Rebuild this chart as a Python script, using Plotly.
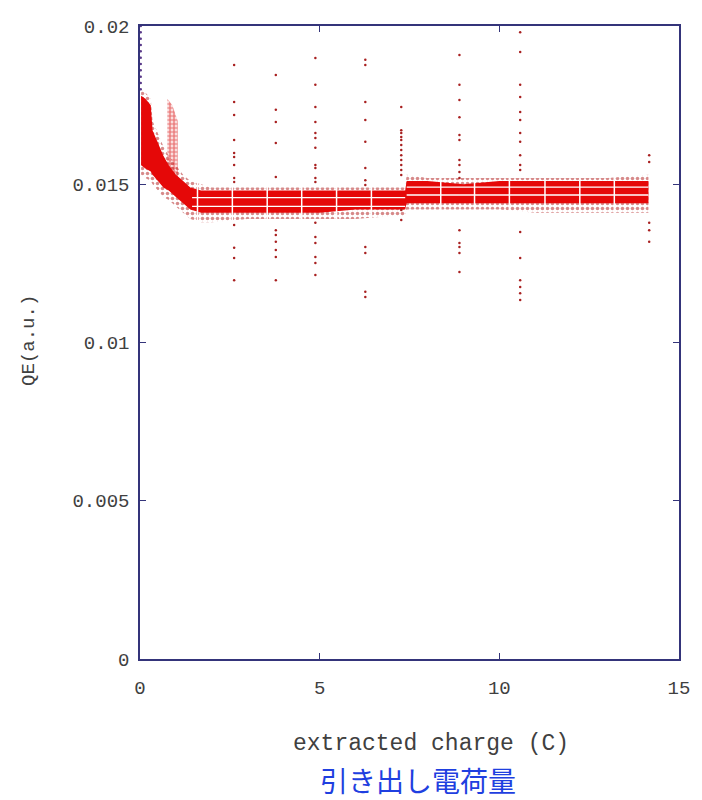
import plotly.graph_objects as go

# ---------------- data ----------------
# dense core of the QE band
band_x  = [0.03, 0.15, 0.30, 0.35, 0.50, 0.65, 0.80, 1.00, 1.20, 1.40, 1.70, 2.00, 3.00,
           4.00, 5.00, 6.00, 7.00, 7.38, 7.42, 8.00, 9.00, 10.00, 11.00, 12.00, 13.00, 14.15]
band_hi = [0.0178, 0.0177, 0.0175, 0.0167, 0.0163, 0.0159, 0.0156, 0.0153, 0.0151, 0.0149,
           0.0148, 0.0148, 0.0148, 0.0148, 0.0148, 0.0148, 0.0148, 0.0148, 0.0151, 0.0151,
           0.0150, 0.0151, 0.0151, 0.0151, 0.0151, 0.0151]
band_lo = [0.0156, 0.0155, 0.0154, 0.0153, 0.0151, 0.0149, 0.0148, 0.0146, 0.0144, 0.0142,
           0.0141, 0.0141, 0.0141, 0.0141, 0.0141, 0.0142, 0.0142, 0.0142, 0.0144, 0.0144,
           0.0144, 0.0144, 0.0144, 0.0144, 0.0144, 0.0144]
# sparse scatter fringe around the band
fringe_hi = [0.0180, 0.0179, 0.0177, 0.0170, 0.0166, 0.0162, 0.0159, 0.0156, 0.0153, 0.0151,
             0.0150, 0.0149, 0.0149, 0.0149, 0.0149, 0.0149, 0.0149, 0.0149, 0.0153, 0.0152,
             0.0152, 0.0152, 0.0152, 0.0152, 0.0152, 0.0153]
fringe_lo = [0.0153, 0.0152, 0.0151, 0.0150, 0.0148, 0.0146, 0.0145, 0.0143, 0.0141, 0.0139,
             0.0138, 0.0138, 0.0139, 0.0139, 0.0139, 0.0139, 0.0140, 0.0140, 0.0142, 0.0142,
             0.0142, 0.0142, 0.0141, 0.0141, 0.0141, 0.0141]
# second early streak
streak_x  = [0.76, 0.90, 1.05]
streak_hi = [0.0177, 0.0175, 0.0170]
streak_lo = [0.0150, 0.0149, 0.0148]

# outlier columns (x position, y values)
col_x = [0.02, 2.62, 3.78, 4.88, 6.27, 7.27, 8.89, 10.58, 14.17]
col_0  = [0.0200, 0.0198, 0.0196, 0.0194, 0.0192, 0.0190, 0.0188, 0.0186, 0.0184, 0.0182, 0.0180]
col_1  = [0.01877, 0.01760, 0.01719, 0.01640, 0.01599, 0.01586, 0.01561, 0.01520, 0.01507,
          0.01371, 0.01299, 0.01267, 0.01197]
col_2  = [0.01845, 0.01735, 0.01697, 0.01630, 0.01523, 0.01355, 0.01340, 0.01318, 0.01292,
          0.01270, 0.01197]
col_3  = [0.01899, 0.01814, 0.01744, 0.01697, 0.01662, 0.01646, 0.01615, 0.01561, 0.01551,
          0.01520, 0.01507, 0.01378, 0.01333, 0.01314, 0.01270, 0.01251, 0.01213]
col_4  = [0.01893, 0.01877, 0.01760, 0.01703, 0.01634, 0.01551, 0.01513, 0.01498,
          0.01302, 0.01283, 0.01160, 0.01144]
col_5  = [0.01744, 0.01671, 0.01662, 0.01649, 0.01640, 0.01624, 0.01608, 0.01592, 0.01577,
          0.01561, 0.01545, 0.01529, 0.01419, 0.01387]
col_6  = [0.01908, 0.01814, 0.01766, 0.01712, 0.01656, 0.01640, 0.01577, 0.01561, 0.01539,
          0.01520, 0.01355, 0.01314, 0.01302, 0.01283, 0.01223]
col_7  = [0.01980, 0.01918, 0.01814, 0.01776, 0.01728, 0.01703, 0.01662, 0.01634, 0.01592,
          0.01561, 0.01545, 0.01349, 0.01267, 0.01197, 0.01175, 0.01156, 0.01134]
col_8  = [0.01592, 0.01570, 0.01378, 0.01355, 0.01318]
columns = [col_0, col_1, col_2, col_3, col_4, col_5, col_6, col_7, col_8]

# white gaps inside the band
gap_x = [1.60, 2.57, 3.54, 4.50, 5.47, 6.44, 8.37, 9.31, 10.28, 11.27, 12.24, 13.20]
left_lines_y = [0.01458, 0.01430]
right_lines_y = [0.01491, 0.01466]

x_ticks = [0, 5, 10, 15]
y_ticks = [0, 0.005, 0.01, 0.015, 0.02]
y_ticktext = ["0", "0.005", "0.01", "0.015", "0.02"]

# ---------------- figure ----------------
RED = "#e50808"
DOT = "#a82020"
AX = "#34347a"
TXT = "#404040"

fig = go.Figure()

# sparse fringe as dotted pattern
fig.add_trace(go.Scatter(
    x=band_x + band_x[::-1], y=fringe_hi + fringe_lo[::-1],
    fill="toself", mode="none", fillcolor="rgba(0,0,0,0)",
    fillpattern=dict(shape=".", size=5, solidity=0.4, fgcolor="#b01515",
                     bgcolor="rgba(255,255,255,0)"),
    hoverinfo="skip", showlegend=False))
# early second streak
fig.add_trace(go.Scatter(
    x=streak_x + streak_x[::-1], y=streak_hi + streak_lo[::-1],
    fill="toself", mode="none", fillcolor="rgba(0,0,0,0)",
    fillpattern=dict(shape=".", size=4, solidity=0.7, fgcolor="#d80c0c",
                     bgcolor="rgba(255,255,255,0)"),
    hoverinfo="skip", showlegend=False))
# dense band
fig.add_trace(go.Scatter(
    x=band_x + band_x[::-1], y=band_hi + band_lo[::-1],
    fill="toself", mode="none", fillcolor=RED,
    hoverinfo="skip", showlegend=False))

# outlier dots
for cx, ys in zip(col_x, columns):
    fig.add_trace(go.Scatter(
        x=[cx] * len(ys), y=ys, mode="markers",
        marker=dict(size=2.5, color=DOT if cx > 0.1 else "#5a3a8a"),
        hoverinfo="skip", showlegend=False))

shapes = []
for gx in gap_x:
    shapes.append(dict(type="line", xref="x", yref="y", x0=gx, x1=gx,
                       y0=0.0138, y1=0.0153, line=dict(color="white", width=1.5),
                       layer="above"))
for ly in left_lines_y:
    shapes.append(dict(type="line", xref="x", yref="y", x0=1.45, x1=7.38,
                       y0=ly, y1=ly, line=dict(color="white", width=1.3), layer="above"))
for ly in right_lines_y:
    shapes.append(dict(type="line", xref="x", yref="y", x0=7.42, x1=14.15,
                       y0=ly, y1=ly, line=dict(color="white", width=1.3), layer="above"))

font_main = "Liberation Mono, DejaVu Sans Mono, monospace"
axis_common = dict(showgrid=False, zeroline=False, showline=True, linecolor=AX,
                   linewidth=1.5, mirror="ticks", ticks="inside", ticklen=6,
                   tickcolor=AX, tickwidth=1.3,
                   tickfont=dict(family=font_main, size=19, color=TXT))

fig.update_layout(
    width=702, height=800,
    margin=dict(l=140, r=18, t=26, b=141),
    paper_bgcolor="white", plot_bgcolor="white",
    xaxis=dict(range=[0, 15], tickvals=x_ticks, ticklabelstandoff=10, **axis_common),
    yaxis=dict(range=[0, 0.02], tickvals=y_ticks, ticktext=y_ticktext,
               ticklabelstandoff=5, **axis_common),
    shapes=shapes,
    annotations=[
        dict(text="QE(a.u.)", xref="paper", yref="paper", x=-0.206, y=0.504,
             textangle=-90, showarrow=False, xanchor="center", yanchor="middle",
             font=dict(family=font_main, size=19, color=TXT)),
        dict(text="extracted charge (C)", xref="paper", yref="paper", x=0.54, y=-0.134,
             showarrow=False, xanchor="center", yanchor="middle",
             font=dict(family=font_main, size=23, color=TXT)),
        dict(text="引き出し電荷量", xref="paper", yref="paper", x=0.516, y=-0.191,
             showarrow=False, xanchor="center", yanchor="middle",
             font=dict(family="Noto Sans CJK JP", size=28, color="#1f3fe0")),
    ],
)

fig.write_html("out.html", config={"displayModeBar": False},
               post_script="document.body.style.margin='0';document.body.style.overflow='hidden';")
